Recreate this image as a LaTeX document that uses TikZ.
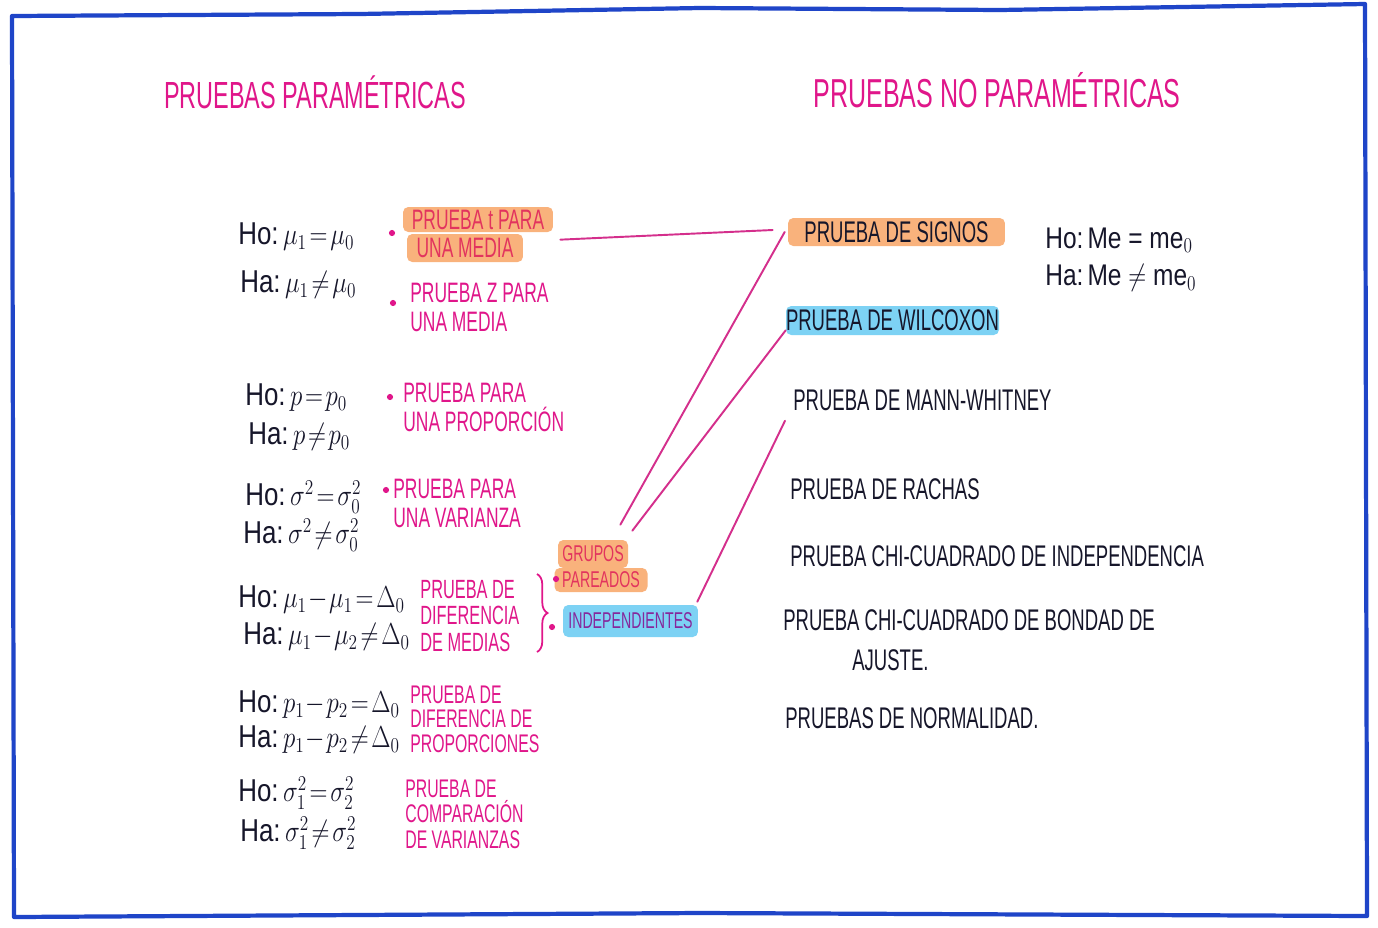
\documentclass[tikz,border=0pt]{standalone}
\usepackage{graphicx}
\usepackage{fontspec}
\setmainfont{Liberation Sans}
\newfontfamily\hand[FakeStretch=0.62]{Liberation Sans}
\usetikzlibrary{calc,decorations.pathreplacing}
\definecolor{pinkink}{HTML}{E0168A}
\definecolor{pinkonorange}{HTML}{E2345E}
\definecolor{purpleink}{HTML}{86289C}
\definecolor{blackink}{HTML}{16162A}
\definecolor{orangehl}{HTML}{F9B27C}
\definecolor{bluehl}{HTML}{7DD2F4}
\definecolor{frameblue}{HTML}{1F45C8}
\definecolor{linkpink}{HTML}{D42F8C}
\newcommand\hwmath[1]{\scalebox{0.82}[1]{#1}}
\begin{document}
\thickmuskip=2mu
\medmuskip=1mu
\begin{tikzpicture}[x=0.02cm, y=-0.02cm,
  pinktxt/.style={text=pinkink, font=\hand\fontsize{16}{16.5}\selectfont, align=left, anchor=west, inner sep=0pt},
  blacktxt/.style={text=blackink, font=\hand\fontsize{17}{19}\selectfont, anchor=west, inner sep=0pt},
  mathtxt/.style={text=blackink, font=\fontsize{18}{20}\selectfont, anchor=west, inner sep=0pt},
  titletxt/.style={text=pinkink, font=\hand\fontsize{23}{25}\selectfont, inner sep=0pt},
  hlo/.style={rounded corners=3pt, inner sep=0pt, fill=orangehl},
  hlb/.style={rounded corners=3pt, inner sep=0pt, fill=bluehl},
  dot/.style={circle, fill=pinkink, inner sep=0pt, minimum size=3.5pt},
  link/.style={draw=linkpink, line width=1.1pt, line cap=round},
  frame/.style={draw=frameblue, line width=2.4pt, line join=round},
]
\useasboundingbox (0,0) rectangle (1378,927);
\fill[white] (0,0) rectangle (1378,927);
% frame
\draw[frame] (12,16) -- (360,14) -- (700,8) -- (1000,10) -- (1365,4) -- (1367,916) -- (700,913) -- (14,917) -- cycle;

% titles
\node[titletxt, font=\hand\fontsize{21.5}{24}\selectfont] (t1) at (315,92) {PRUEBAS PARAMÉTRICAS};
\node[titletxt] (t2) at (997,90) {PRUEBAS NO PARAMÉTRICAS};

% left: hypotheses
\node[mathtxt] (h1a) at (238,237) {\hwmath{Ho:\,$\mu_1 = \mu_0$}};
\node[mathtxt] (h1b) at (240,285) {\hwmath{Ha:\,$\mu_1 \neq \mu_0$}};
\node[mathtxt] (h2a) at (245,398) {\hwmath{Ho:\,$p = p_0$}};
\node[mathtxt] (h2b) at (248,437) {\hwmath{Ha:\,$p \neq p_0$}};
\node[mathtxt] (h3a) at (245,497) {\hwmath{Ho:\,$\sigma^2 = \sigma_0^2$}};
\node[mathtxt] (h3b) at (243,535) {\hwmath{Ha:\,$\sigma^2 \neq \sigma_0^2$}};
\node[mathtxt] (h4a) at (238,600) {\hwmath{Ho:\,$\mu_1 - \mu_1 = \Delta_0$}};
\node[mathtxt] (h4b) at (243,637) {\hwmath{Ha:\,$\mu_1 - \mu_2 \neq \Delta_0$}};
\node[mathtxt] (h5a) at (238,705) {\hwmath{Ho:\,$p_1 - p_2 = \Delta_0$}};
\node[mathtxt] (h5b) at (238,740) {\hwmath{Ha:\,$p_1 - p_2 \neq \Delta_0$}};
\node[mathtxt] (h6a) at (238,793) {\hwmath{Ho:\,$\sigma_1^2 = \sigma_2^2$}};
\node[mathtxt] (h6b) at (240,833) {\hwmath{Ha:\,$\sigma_1^2 \neq \sigma_2^2$}};

% left: tests
\node[dot] (d1) at (392,233) {};
\node[hlo, minimum width=3cm, minimum height=0.5cm, text=pinkonorange, font=\hand\fontsize{16}{16}\selectfont] (ptA) at (478,219.5) {PRUEBA t PARA};
\node[hlo, minimum width=2.32cm, minimum height=0.56cm, text=pinkonorange, font=\hand\fontsize{16}{16}\selectfont] (ptB) at (465,248) {UNA MEDIA};

\node[dot] (d2) at (393,303) {};
\node[pinktxt] (pz) at (410,307) {PRUEBA Z PARA\\UNA MEDIA};

\node[dot] (d3) at (390,397) {};
\node[pinktxt] (pp) at (403,407) {PRUEBA PARA\\UNA PROPORCIÓN};

\node[dot] (d4) at (386,490) {};
\node[pinktxt] (pv) at (393,503) {PRUEBA PARA\\UNA VARIANZA};

\node[pinktxt, font=\hand\fontsize{15}{15}\selectfont] (pdm) at (420,616) {PRUEBA DE\\DIFERENCIA\\DE MEDIAS};
\draw[draw=pinkink, line width=1pt, decorate, decoration={brace, amplitude=6pt}] (537,574) -- (537,652);

\node[hlo, minimum width=1.4cm, minimum height=0.56cm, text=pinkonorange, font=\hand\fontsize{13}{14}\selectfont] (grupos) at (593,554) {GRUPOS};
\node[hlo, minimum width=1.86cm, minimum height=0.48cm, text=pinkonorange, font=\hand\fontsize{13}{14}\selectfont] (pareados) at (601,580) {PAREADOS};
\node[dot] (d5) at (556,579) {};
\node[hlb, minimum width=2.7cm, minimum height=0.64cm, text=purpleink, font=\hand\fontsize{13}{14}\selectfont] (indep) at (630.5,621) {INDEPENDIENTES};
\node[dot] (d6) at (552,627) {};

\node[pinktxt, font=\hand\fontsize{14.5}{14}\selectfont] (pdp) at (410,719) {PRUEBA DE\\DIFERENCIA DE\\PROPORCIONES};
\node[pinktxt, font=\hand\fontsize{14.5}{14.5}\selectfont] (pcv) at (405,814) {PRUEBA DE\\COMPARACIÓN\\DE VARIANZAS};

% right: non-parametric tests
\node[hlo, minimum width=4.34cm, minimum height=0.56cm, text=blackink, font=\hand\fontsize{17}{19}\selectfont] (signos) at (896.5,232) {PRUEBA DE SIGNOS};
\node[mathtxt, font=\fontsize{17}{19}\selectfont] (mea) at (1045,240) {\hwmath{Ho:\,Me = me$_0$}};
\node[mathtxt, font=\fontsize{17}{19}\selectfont] (meb) at (1045,278) {\hwmath{Ha:\,Me $\neq$ me$_0$}};
\node[hlb, minimum width=4.1cm, minimum height=0.58cm, text=blackink, font=\hand\fontsize{17}{19}\selectfont] (wilcoxon) at (892.5,320.5) {PRUEBA DE WILCOXON};
\node[blacktxt] (mann) at (793,400) {PRUEBA DE MANN-WHITNEY};
\node[blacktxt] (rachas) at (790,489) {PRUEBA DE RACHAS};
\node[blacktxt] (chi1) at (790,556) {PRUEBA CHI-CUADRADO DE INDEPENDENCIA};
\node[blacktxt] (chi2a) at (783,620) {PRUEBA CHI-CUADRADO DE BONDAD DE};
\node[blacktxt] (chi2b) at (852,660) {AJUSTE.};
\node[blacktxt] (normal) at (785,718) {PRUEBAS DE NORMALIDAD.};

% connectors
\draw[link] ($(ptB.north east)+(37,6)$) -- ($(signos.west)+(-15,-2)$);
\draw[link] ($(grupos.north east)+(-8,-15)$) -- ($(signos.west)+(-3,0)$);
\draw[link] ($(grupos.north east)+(4,-9)$) -- ($(wilcoxon.south west)+(0,-5)$);
\draw[link] ($(indep.north east)+(-1,-3)$) -- ($(mann.south west)+(-8,10)$);
\end{tikzpicture}
\end{document}
